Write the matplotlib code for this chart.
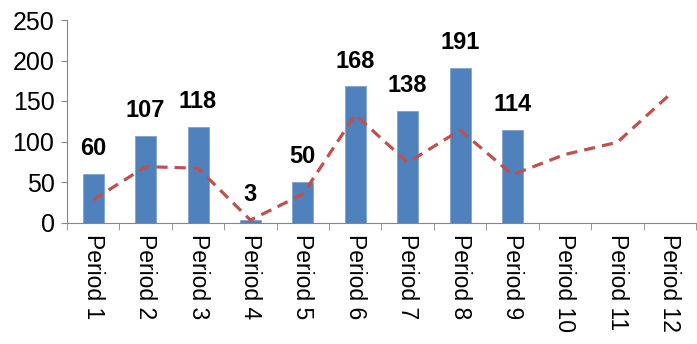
import matplotlib.pyplot as plt
import numpy as np

plt.rcParams['font.family'] = ['Liberation Sans', 'DejaVu Sans']

periods = ["Period %d" % i for i in range(1, 13)]
bar_values = [60, 107, 118, 3, 50, 168, 138, 191, 114]
line_values = [28, 69, 67, 3, 35, 133, 74, 114, 59, 84, 99, 158]

fig = plt.figure(figsize=(6.97, 3.44), dpi=100)
ax = fig.add_axes([67 / 697, 1 - 222.5 / 344, 629 / 697, 202.5 / 344])

x = np.arange(len(periods))
ax.bar(x[:len(bar_values)], bar_values, width=0.4, color="#4F81BD",
       edgecolor="#7FA3D0", linewidth=0.6, zorder=2)
ax.plot(x, line_values, color="#C0504D", linestyle=(0, (3.5, 2.2)),
        linewidth=2.3, zorder=3)

for xi, v in zip(x, bar_values):
    ax.annotate(str(v), (xi, v), xytext=(0, 10), textcoords="offset points",
                ha="center", va="bottom", fontsize=17, fontweight="bold")

ax.set_xlim(-0.5, len(periods) - 0.5)
ax.set_ylim(0, 250)
ax.set_yticks([0, 50, 100, 150, 200, 250])
ax.tick_params(axis="y", labelsize=18, length=4, color="#868686", pad=5)

ax.set_xticks(x)
ax.set_xticklabels(periods, rotation=270, fontsize=16.5, va="top", ha="center")
ax.set_xticks(np.arange(-0.5, len(periods)), minor=True)
ax.tick_params(axis="x", which="major", length=0, pad=8)
ax.tick_params(axis="x", which="minor", length=5, color="#868686")

for s in ["top", "right"]:
    ax.spines[s].set_visible(False)
for s in ["left", "bottom"]:
    ax.spines[s].set_color("#868686")

fig.savefig("out.png", dpi=100)
